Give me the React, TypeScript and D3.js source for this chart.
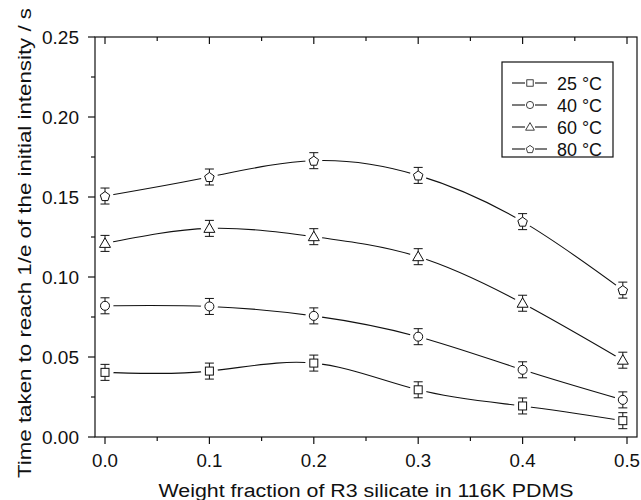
import React from "react";
import * as d3 from "d3";

const xValues = [0, 0.1, 0.2, 0.3, 0.4, 0.496];
const series25 = [0.0404, 0.0412, 0.0462, 0.0295, 0.0194, 0.0102];
const series40 = [0.082, 0.0816, 0.0757, 0.0627, 0.042, 0.0232];
const series60 = [0.121, 0.1304, 0.1252, 0.1127, 0.0836, 0.048];
const series80 = [0.1506, 0.1625, 0.1727, 0.1635, 0.1346, 0.0918];
const err25 = [0.005, 0.005, 0.005, 0.005, 0.005, 0.005];
const err40 = [0.005, 0.005, 0.005, 0.005, 0.005, 0.005];
const err60 = [0.005, 0.005, 0.005, 0.005, 0.005, 0.005];
const err80 = [0.005, 0.005, 0.005, 0.005, 0.005, 0.005];
const seriesLabels = ["25 °C", "40 °C", "60 °C", "80 °C"];
const markerKinds = ["square", "circle", "triangle", "pentagon"];
const xTicks = [0, 0.1, 0.2, 0.3, 0.4, 0.5];
const xMinorTicks = [0.05, 0.15, 0.25, 0.35, 0.45];
const yTicks = [0, 0.05, 0.1, 0.15, 0.2, 0.25];
const yMinorTicks = [0.025, 0.075, 0.125, 0.175, 0.225];
const xTitle = "Weight fraction of R3 silicate in 116K PDMS";
const yTitle = "Time taken to reach 1/e of the initial intensity / s";

const W = 641;
const H = 500;
const frame = { left: 95, right: 637, top: 37, bottom: 437 };
const FONT = "'Liberation Sans', Arial, sans-serif";
const FS = 18;

function Marker({ kind, cx, cy }: { kind: string; cx: number; cy: number }) {
  const common = { fill: "white", stroke: "#111", strokeWidth: 1 };
  if (kind === "square") return <rect x={cx - 4} y={cy - 4} width={8} height={8} {...common} />;
  if (kind === "circle") return <circle cx={cx} cy={cy} r={4.5} {...common} />;
  if (kind === "triangle") {
    const pts = [[cx, cy - 5.5], [cx + 5.5, cy + 4], [cx - 5.5, cy + 4]];
    return <polygon points={pts.map((p) => p.join(",")).join(" ")} {...common} />;
  }
  const r = 5;
  const pts = d3.range(5).map((i) => {
    const a = -Math.PI / 2 + (i * 2 * Math.PI) / 5;
    return [cx + r * Math.cos(a), cy + r * Math.sin(a) + 0.5];
  });
  return <polygon points={pts.map((p) => p.join(",")).join(" ")} {...common} />;
}

export default function App() {
  const x = d3.scaleLinear().domain([0, 0.5]).range([105, 627]);
  const y = d3.scaleLinear().domain([0, 0.25]).range([frame.bottom, frame.top]);
  const allSeries = [series25, series40, series60, series80];
  const allErr = [err25, err40, err60, err80];
  const line = d3
    .line<[number, number]>()
    .x((d) => x(d[0]))
    .y((d) => y(d[1]))
    .curve(d3.curveNatural);

  const xTitleLen = 415;
  const yTitleLen = 470;
  const xTitleCenter = (frame.left + frame.right) / 2;
  const yTitleCenter = 243;

  return (
    <svg width={W} height={H} style={{ display: "block", position: "absolute", left: 0, top: 0 }} fontFamily={FONT}>
      <rect width={W} height={H} fill="white" />
      {allSeries.map((s, i) => (
        <path
          key={"l" + i}
          d={line(xValues.map((xv, j) => [xv, s[j]] as [number, number])) || ""}
          fill="none"
          stroke="#111"
          strokeWidth={1.1}
        />
      ))}
      {allSeries.map((s, i) =>
        xValues.map((xv, j) => (
          <circle key={"g" + i + "-" + j} cx={x(xv)} cy={y(s[j])} r={8.5} fill="white" />
        ))
      )}
      {allSeries.map((s, i) =>
        xValues.map((xv, j) => {
          const cx = x(xv);
          const y1 = y(s[j] + allErr[i][j]);
          const y2 = y(s[j] - allErr[i][j]);
          return (
            <g key={"e" + i + "-" + j} stroke="#111" strokeWidth={1}>
              <line x1={cx} x2={cx} y1={y1} y2={y2} />
              <line x1={cx - 4.5} x2={cx + 4.5} y1={y1} y2={y1} />
              <line x1={cx - 4.5} x2={cx + 4.5} y1={y2} y2={y2} />
            </g>
          );
        })
      )}
      {allSeries.map((s, i) =>
        xValues.map((xv, j) => <Marker key={"m" + i + "-" + j} kind={markerKinds[i]} cx={x(xv)} cy={y(s[j])} />)
      )}
      <rect
        x={frame.left}
        y={frame.top}
        width={frame.right - frame.left}
        height={frame.bottom - frame.top}
        fill="none"
        stroke="#111"
        strokeWidth={1.2}
      />
      {xTicks.map((t) => (
        <g key={"xt" + t} stroke="#111" strokeWidth={1.2}>
          <line x1={x(t)} x2={x(t)} y1={frame.bottom} y2={frame.bottom + 7} />
          <line x1={x(t)} x2={x(t)} y1={frame.top} y2={frame.top + 7} />
        </g>
      ))}
      {xMinorTicks.map((t) => (
        <g key={"xm" + t} stroke="#111" strokeWidth={1.2}>
          <line x1={x(t)} x2={x(t)} y1={frame.bottom} y2={frame.bottom + 4} />
          <line x1={x(t)} x2={x(t)} y1={frame.top} y2={frame.top + 4} />
        </g>
      ))}
      {xTicks.map((t) => (
        <text
          key={"xl" + t}
          x={x(t) - 13}
          y={467}
          fontSize={FS}
          textLength={26}
          lengthAdjust="spacingAndGlyphs"
          fill="#111"
        >
          {d3.format(".1f")(t)}
        </text>
      ))}
      {yTicks.map((t) => (
        <line key={"yt" + t} x1={frame.left - 7} x2={frame.left} y1={y(t)} y2={y(t)} stroke="#111" strokeWidth={1.2} />
      ))}
      {yMinorTicks.map((t) => (
        <line key={"ym" + t} x1={frame.left - 4} x2={frame.left} y1={y(t)} y2={y(t)} stroke="#111" strokeWidth={1.2} />
      ))}
      {yTicks.map((t) => (
        <text
          key={"yl" + t}
          x={42}
          y={y(t) + 6.5}
          fontSize={FS}
          textLength={37}
          lengthAdjust="spacingAndGlyphs"
          fill="#111"
        >
          {d3.format(".2f")(t)}
        </text>
      ))}
      <text
        x={xTitleCenter - xTitleLen / 2}
        y={497}
        fontSize={FS}
        textLength={xTitleLen}
        lengthAdjust="spacingAndGlyphs"
        fill="#111"
      >
        {xTitle}
      </text>
      <text
        transform={`translate(31, ${yTitleCenter + yTitleLen / 2}) rotate(-90)`}
        fontSize={FS}
        textLength={yTitleLen}
        lengthAdjust="spacingAndGlyphs"
        fill="#111"
      >
        {yTitle}
      </text>
      <rect x={502} y={62} width={111} height={95} fill="white" stroke="#111" strokeWidth={1.2} />
      {seriesLabels.map((lab, i) => {
        const ly = 83 + i * 22;
        return (
          <g key={"lg" + i}>
            <line x1={512} x2={525} y1={ly} y2={ly} stroke="#111" strokeWidth={1.1} />
            <line x1={535} x2={547} y1={ly} y2={ly} stroke="#111" strokeWidth={1.1} />
            <g transform={`translate(${530}, ${ly}) scale(0.8) translate(${-530}, ${-ly})`}>
              <Marker kind={markerKinds[i]} cx={530} cy={ly} />
            </g>
            <text
              x={557}
              y={ly + 6.5}
              fontSize={FS}
              textLength={45}
              lengthAdjust="spacingAndGlyphs"
              fill="#111"
            >
              {lab}
            </text>
          </g>
        );
      })}
    </svg>
  );
}
